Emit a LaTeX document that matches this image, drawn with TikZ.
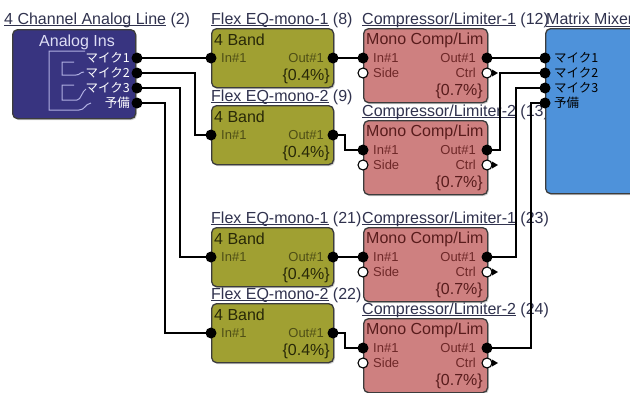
\documentclass[tikz,border=0pt]{standalone}
\usepackage{fontspec}
\setmainfont{Liberation Sans}
\newfontfamily\jp{Noto Sans CJK JP}
\usetikzlibrary{shadows}
\definecolor{aicol}{RGB}{56,52,128}
\definecolor{eqcol}{RGB}{160,160,50}
\definecolor{cpcol}{RGB}{206,128,128}
\definecolor{mxcol}{RGB}{78,146,218}
\definecolor{bordercol}{RGB}{60,60,60}
\definecolor{ttlcol}{RGB}{48,50,78}
\definecolor{eqtxt}{RGB}{40,40,8}
\definecolor{eqsm}{RGB}{78,78,22}
\definecolor{cptxt}{RGB}{88,28,28}
\definecolor{cpsm}{RGB}{110,40,40}
\definecolor{deco}{RGB}{176,176,226}
\definecolor{aitxt}{RGB}{222,222,245}
\newcommand\ulx[1]{\setbox0\hbox{#1}\rlap{\rule[-1.7pt]{\wd0}{0.7pt}}\box0\relax}
\tikzset{
  blk/.style={rounded corners=5pt, draw=bordercol, line width=1.3pt,
    drop shadow={shadow xshift=1.2pt, shadow yshift=-1.5pt, opacity=0.35}},
  eqbox/.style={blk, fill=eqcol, anchor=north west, minimum width=122pt, minimum height=59pt, inner sep=0pt},
  cpbox/.style={blk, fill=cpcol, anchor=north west, minimum width=124pt, minimum height=74pt, inner sep=0pt},
  ttl/.style={inner sep=0pt, text=ttlcol, font=\fontsize{16}{18}\selectfont},
  bigtxt/.style={inner sep=0pt, font=\fontsize{16}{18}\selectfont},
  smtxt/.style={inner sep=0pt, font=\fontsize{13}{15}\selectfont},
  jptxt/.style={inner sep=0pt, font=\jp\fontsize{12.5}{14}\selectfont},
  port/.style={circle, fill=black, inner sep=0pt, minimum size=11pt},
  oport/.style={circle, fill=white, draw=black, line width=1.1pt, inner sep=0pt, minimum size=10pt},
  wire/.style={draw=black, line width=1.2pt},
  decoline/.style={draw=deco, line width=1pt}
}
\newcommand\eqblock[4]{%
  \node[eqbox] (#1) at (211,#2) {};
  \node[ttl, anchor=west] (#1t) at (211,#2-8) {\ulx{#3} (#4)};
  \node[bigtxt, text=eqtxt, anchor=west] (#1b) at (214,#2+12) {4 Band};
  \node[smtxt, text=eqsm, anchor=west] (#1il) at (221,#2+30) {In\#1};
  \node[smtxt, text=eqsm, anchor=east] (#1ol) at (324,#2+30) {Out\#1};
  \node[bigtxt, text=eqtxt, anchor=east] (#1p) at (330,#2+48) {\{0.4\%\}};
  \node[port] (#1in) at (211,#2+30) {};
  \node[port] (#1out) at (333,#2+30) {};
}
\newcommand\cpblock[4]{%
  \node[cpbox] (#1) at (363,#2) {};
  \node[ttl, anchor=west] (#1t) at (362,#2-8) {\ulx{#3} (#4)};
  \node[bigtxt, text=cptxt, anchor=west] (#1b) at (366,#2+12) {Mono Comp/Lim};
  \node[smtxt, text=cpsm, anchor=west] (#1il) at (373,#2+30) {In\#1};
  \node[smtxt, text=cpsm, anchor=west] (#1sl) at (373,#2+45) {Side};
  \node[smtxt, text=cpsm, anchor=east] (#1ol) at (476,#2+30) {Out\#1};
  \node[smtxt, text=cpsm, anchor=east] (#1cl) at (476,#2+45) {Ctrl};
  \node[bigtxt, text=cptxt, anchor=east] (#1p) at (483,#2+63) {\{0.7\%\}};
  \node[port] (#1in) at (363,#2+30) {};
  \node[oport] (#1side) at (363,#2+45) {};
  \node[port] (#1out) at (487,#2+30) {};
  \node[oport] (#1ctrl) at (487,#2+45) {};
  \fill (492,#2+41.5) -- (498,#2+45) -- (492,#2+48.5) -- cycle;
}
\begin{document}
\begin{tikzpicture}[x=1pt, y=-1pt]
\useasboundingbox (0,0) rectangle (630,392);
\clip (0,0) rectangle (630,392);
\fill[white] (0,0) rectangle (630,392);

% Analog Ins block
\node[ttl, anchor=west] (ait) at (4,20) {\ulx{4 Channel Analog Line} (2)};
\node[blk, fill=aicol, anchor=north west, minimum width=123pt, minimum height=89pt, inner sep=0pt] (ai) at (12,29) {};
\node[bigtxt, text=aitxt] (ain) at (77,42) {Analog Ins};
\draw[decoline] (85,51) -- (49,51) -- (49,110) -- (79,110) .. controls (85,110) and (85,104) .. (91,103);
\draw[decoline] (74,62) -- (62,62) -- (62,75) -- (76,75) .. controls (80,75) and (80,72) .. (84,72);
\draw[decoline] (74,85) -- (62,85) -- (62,100) -- (77,100) .. controls (81,100) and (82,91) .. (86,89);
\node[jptxt, text=white, anchor=east] (ail1) at (130,58) {マイク1};
\node[jptxt, text=white, anchor=east] (ail2) at (130,73) {マイク2};
\node[jptxt, text=white, anchor=east] (ail3) at (130,88) {マイク3};
\node[jptxt, text=white, anchor=east] (ail4) at (130,103) {予備};
\node[port] (ai1) at (137,58) {};
\node[port] (ai2) at (137,73) {};
\node[port] (ai3) at (137,88) {};
\node[port] (ai4) at (137,103) {};

% EQ blocks
\eqblock{eqa}{28}{Flex EQ-mono-1}{8}
\eqblock{eqb}{105}{Flex EQ-mono-2}{9}
\eqblock{eqc}{227}{Flex EQ-mono-1}{21}
\eqblock{eqd}{303}{Flex EQ-mono-2}{22}

% Compressor blocks
\cpblock{cpa}{28}{Compressor/Limiter-1}{12}
\cpblock{cpb}{120}{Compressor/Limiter-2}{13}
\cpblock{cpc}{227}{Compressor/Limiter-1}{23}
\cpblock{cpd}{318}{Compressor/Limiter-2}{24}

% Matrix mixer
\node[blk, fill=mxcol, anchor=north west, minimum width=110pt, minimum height=165pt, inner sep=0pt] (mx) at (545,28) {};
\node[ttl, anchor=west] (mxt) at (546,20) {\ulx{Matrix Mixer}};
\node[jptxt, text=black, anchor=west] (mxl1) at (554,58) {マイク1};
\node[jptxt, text=black, anchor=west] (mxl2) at (554,73) {マイク2};
\node[jptxt, text=black, anchor=west] (mxl3) at (554,88) {マイク3};
\node[jptxt, text=black, anchor=west] (mxl4) at (554,103) {予備};
\node[port] (mx1) at (545,58) {};
\node[port] (mx2) at (545,73) {};
\node[port] (mx3) at (545,88) {};
\node[port] (mx4) at (545,103) {};

% jog coordinates
\coordinate (j2) at (195,0);
\coordinate (j3) at (180,0);
\coordinate (j4) at (165,0);
\coordinate (k2) at (345,0);
\coordinate (m2) at (500,0);
\coordinate (m3) at (516,0);
\coordinate (m4) at (531,0);

% wires: analog -> EQ
\draw[wire] (ai1.center) -- (eqain.center);
\draw[wire] (ai2.center) -| (j2 |- eqbin.center) -- (eqbin.center);
\draw[wire] (ai3.center) -| (j3 |- eqcin.center) -- (eqcin.center);
\draw[wire] (ai4.center) -| (j4 |- eqdin.center) -- (eqdin.center);
% EQ -> comp
\draw[wire] (eqaout.center) -- (cpain.center);
\draw[wire] (eqbout.center) -| (k2 |- cpbin.center) -- (cpbin.center);
\draw[wire] (eqcout.center) -- (cpcin.center);
\draw[wire] (eqdout.center) -| (k2 |- cpdin.center) -- (cpdin.center);
% comp -> matrix
\draw[wire] (cpaout.center) -- (mx1.center);
\draw[wire] (cpbout.center) -| (m2 |- mx2.center) -- (mx2.center);
\draw[wire] (cpcout.center) -| (m3 |- mx3.center) -- (mx3.center);
\draw[wire] (cpdout.center) -| (m4 |- mx4.center) -- (mx4.center);
\end{tikzpicture}
\end{document}
